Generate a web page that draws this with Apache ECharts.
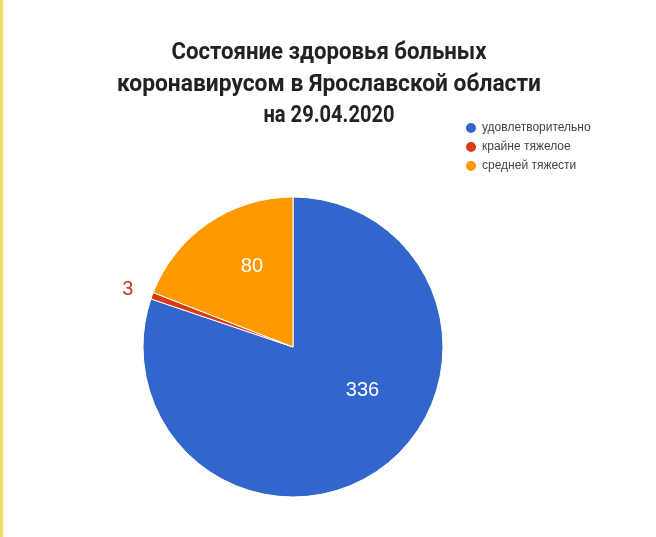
<!DOCTYPE html>
<html><head><meta charset="utf-8">
<script src="https://cdn.jsdelivr.net/npm/echarts@6/dist/echarts.min.js"></script>
<style>
html,body{margin:0;padding:0;background:#fff;}
#c{width:653px;height:537px;border-left:3px solid #f2dc5d;}
</style></head>
<body><div id="c"></div>
<script>
const titleLines = ['Состояние здоровья больных', 'коронавирусом в Ярославской области', 'на 29.04.2020'];
const categories = ['удовлетворительно', 'крайне тяжелое', 'средней тяжести'];
const values = [336, 3, 80];
const colors = ['#3366cc', '#dc3912', '#ff9900'];

const titleFont = "bold 24px Roboto, 'Liberation Sans', sans-serif";
const mctx = document.createElement('canvas').getContext('2d');
mctx.font = titleFont;
const lineWidths = [315, 424, 131];
const lineMiddles = [53, 84.5, 115.5];

const chart = echarts.init(document.getElementById('c'));
const labelShift = [[24, -20], [-13, -4], [3, -16]];
chart.setOption({
  backgroundColor: '#fff',
  graphic: titleLines.map((t, i) => ({
    type: 'text', x: 326, y: lineMiddles[i], scaleX: lineWidths[i] / mctx.measureText(t).width,
    style: {text: t, font: titleFont, fill: '#222', align: 'center', verticalAlign: 'middle'}
  })),
  legend: {
    orient: 'vertical', left: 456, top: 116,
    icon: 'circle', itemWidth: 12, itemHeight: 12, itemGap: 5,
    data: categories,
    textStyle: {fontFamily: "'Liberation Sans',Arial,sans-serif", fontSize: 12, color: '#444'}
  },
  series: [{
    type: 'pie',
    center: [290, 347], radius: 150,
    startAngle: 90, clockwise: true,
    avoidLabelOverlap: false,
    itemStyle: {borderColor: '#fff', borderWidth: 1},
    data: categories.map((c, i) => ({
      name: c, value: values[i], itemStyle: {color: colors[i]},
      label: i === 1
        ? {position: 'outside', color: '#c0392b', fontSize: 20, fontFamily: "'Liberation Sans',Arial,sans-serif", distanceToLabelLine: 0}
        : {position: 'inside', color: '#fff', fontSize: 20, fontFamily: "'Liberation Sans',Arial,sans-serif"},
      labelLine: {show: false, length: 6, length2: 0}
    })),
    label: {formatter: '{c}'},
    labelLayout: p => ({dx: labelShift[p.dataIndex][0], dy: labelShift[p.dataIndex][1]}),
    emphasis: {disabled: true}
  }]
});
</script></body></html>
